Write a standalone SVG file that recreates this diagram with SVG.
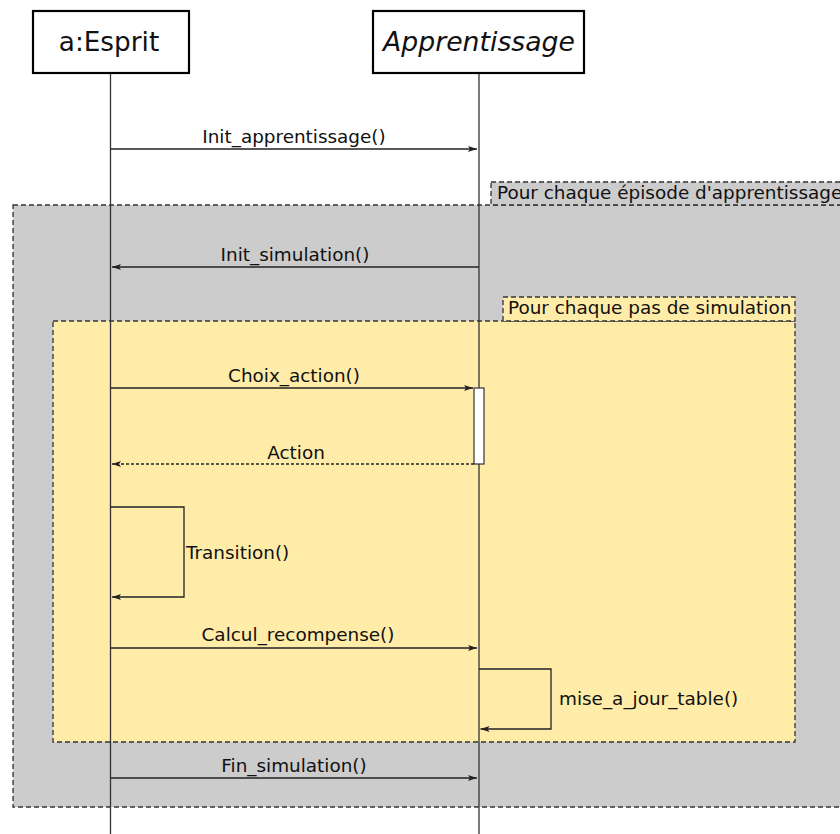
<svg xmlns="http://www.w3.org/2000/svg" width="840" height="834" viewBox="0 0 840 834">
<style>
.hdr{fill:#fff;stroke:#000;stroke-width:2.2}
.life{stroke:#333;stroke-width:1.3;fill:none}
.frame{stroke:#333;stroke-width:1.3;stroke-dasharray:5,3}
.msg{stroke:#222;stroke-width:1.3;fill:none}
.ret{stroke:#222;stroke-width:1.3;fill:none;stroke-dasharray:3,2}
text{font-family:"DejaVu Sans",sans-serif;fill:#111}
.lbl{font-size:18.4px}
</style>
<defs>
<marker id="ah" markerUnits="userSpaceOnUse" markerWidth="12" markerHeight="8" viewBox="-10 -4 12 8" refX="0" refY="0" orient="auto">
<path d="M-9,-3 L0,0 L-9,3 L-7,0 z" fill="#222"/>
</marker>
</defs>
<rect width="840" height="834" fill="#fff"/>
<g id="frame-episode">
<rect class="frame" x="13" y="205" width="840" height="602" fill="#cccccc"/>
<rect class="frame" x="491" y="182" width="360" height="23" fill="#cccccc"/>
<text class="lbl" x="497" y="199">Pour chaque épisode d'apprentissage</text>
</g>
<g id="frame-pas">
<rect class="frame" x="53" y="321" width="742" height="421" fill="#ffeca8"/>
<rect class="frame" x="503" y="297" width="292" height="24" fill="#ffeca8"/>
<text class="lbl" x="508" y="314">Pour chaque pas de simulation</text>
</g>
<g id="esprit">
<line class="life" x1="110.5" y1="73" x2="110.5" y2="834"/>
<rect class="hdr" x="33" y="11" width="156" height="62"/>
<text x="109" y="51" font-size="26.3" text-anchor="middle">a:Esprit</text>
</g>
<g id="apprentissage">
<line class="life" x1="479" y1="73" x2="479" y2="834"/>
<rect class="hdr" x="373" y="11" width="211" height="62"/>
<text x="479" y="51" font-size="26.7" font-style="italic" text-anchor="middle">Apprentissage</text>
<rect x="474" y="388" width="10" height="76" fill="#fff" stroke="#333" stroke-width="1.2"/>
</g>
<g id="connectors">
<line class="msg" x1="110.5" y1="149" x2="477" y2="149" marker-end="url(#ah)"/>
<text class="lbl" x="294" y="143" text-anchor="middle">Init_apprentissage()</text>
<line class="msg" x1="479" y1="267" x2="112" y2="267" marker-end="url(#ah)"/>
<text class="lbl" x="295" y="261" text-anchor="middle">Init_simulation()</text>
<line class="msg" x1="110.5" y1="388" x2="473" y2="388" marker-end="url(#ah)"/>
<text class="lbl" x="294" y="382" text-anchor="middle">Choix_action()</text>
<line class="ret" x1="474" y1="464" x2="112" y2="464" marker-end="url(#ah)"/>
<text class="lbl" x="296" y="459" text-anchor="middle">Action</text>
<path class="msg" d="M110.5,507 H184 V597 H112" marker-end="url(#ah)"/>
<text class="lbl" x="186" y="559">Transition()</text>
<line class="msg" x1="110.5" y1="648" x2="477" y2="648" marker-end="url(#ah)"/>
<text class="lbl" x="298" y="641" text-anchor="middle">Calcul_recompense()</text>
<path class="msg" d="M479,669 H551 V729 H480.5" marker-end="url(#ah)"/>
<text class="lbl" x="559" y="705">mise_a_jour_table()</text>
<line class="msg" x1="110.5" y1="778" x2="477" y2="778" marker-end="url(#ah)"/>
<text class="lbl" x="294" y="772" text-anchor="middle">Fin_simulation()</text>
</g>
</svg>
